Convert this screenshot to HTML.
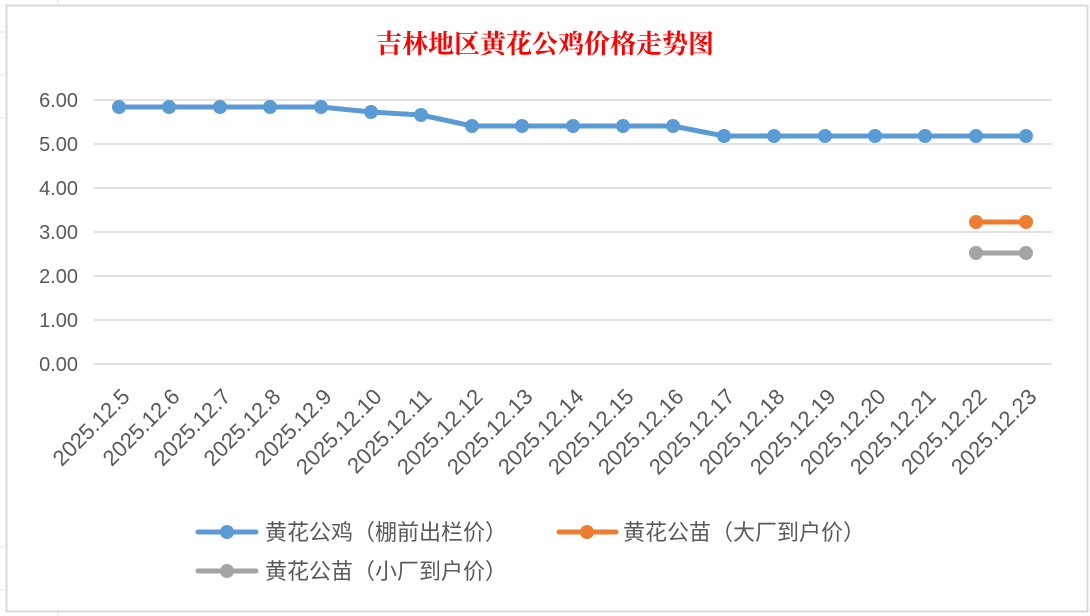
<!DOCTYPE html>
<html><head><meta charset="utf-8"><style>
html,body{margin:0;padding:0;background:#fff;}
svg{display:block;font-family:"Liberation Sans","Noto Sans CJK SC",sans-serif;}
</style></head><body>
<svg width="1090" height="616" viewBox="0 0 1090 616">
<rect x="0" y="0" width="1090" height="616" fill="#fff"/>
<g stroke="#e3e3e3" stroke-width="1">
<line x1="0" y1="32" x2="6" y2="32"/><line x1="0" y1="75" x2="6" y2="75"/>
<line x1="0" y1="118" x2="6" y2="118"/><line x1="0" y1="547" x2="6" y2="547"/>
<line x1="0" y1="590" x2="6" y2="590"/><line x1="58" y1="0" x2="58" y2="5"/><line x1="58" y1="612" x2="58" y2="616"/>
</g>
<rect x="6.5" y="5.5" width="1081" height="606" fill="#fff" stroke="#d9d9d9" stroke-width="2"/>
<text x="545" y="53" text-anchor="middle" font-size="26" font-weight="bold" fill="#ff0000" font-family="Liberation Serif,Noto Serif CJK SC,serif">吉林地区黄花公鸡价格走势图</text>
<g stroke="#d9d9d9" stroke-width="1.5">
<line x1="94" y1="100" x2="1052" y2="100"/><line x1="94" y1="144" x2="1052" y2="144"/>
<line x1="94" y1="188" x2="1052" y2="188"/><line x1="94" y1="232" x2="1052" y2="232"/>
<line x1="94" y1="276" x2="1052" y2="276"/><line x1="94" y1="320" x2="1052" y2="320"/>
<line x1="94" y1="364" x2="1052" y2="364"/>
</g>
<g font-size="20" fill="#595959" text-anchor="end">
<text x="78" y="107">6.00</text><text x="78" y="151">5.00</text><text x="78" y="195">4.00</text>
<text x="78" y="239">3.00</text><text x="78" y="283">2.00</text><text x="78" y="327">1.00</text>
<text x="78" y="371">0.00</text>
</g>
<g font-size="22" fill="#595959" text-anchor="end">
<text transform="translate(131,398) rotate(-45)">2025.12.5</text>
<text transform="translate(181,398) rotate(-45)">2025.12.6</text>
<text transform="translate(232,398) rotate(-45)">2025.12.7</text>
<text transform="translate(282,398) rotate(-45)">2025.12.8</text>
<text transform="translate(333,398) rotate(-45)">2025.12.9</text>
<text transform="translate(383,398) rotate(-45)">2025.12.10</text>
<text transform="translate(433,398) rotate(-45)">2025.12.11</text>
<text transform="translate(484,398) rotate(-45)">2025.12.12</text>
<text transform="translate(534,398) rotate(-45)">2025.12.13</text>
<text transform="translate(585,398) rotate(-45)">2025.12.14</text>
<text transform="translate(635,398) rotate(-45)">2025.12.15</text>
<text transform="translate(685,398) rotate(-45)">2025.12.16</text>
<text transform="translate(736,398) rotate(-45)">2025.12.17</text>
<text transform="translate(786,398) rotate(-45)">2025.12.18</text>
<text transform="translate(837,398) rotate(-45)">2025.12.19</text>
<text transform="translate(887,398) rotate(-45)">2025.12.20</text>
<text transform="translate(937,398) rotate(-45)">2025.12.21</text>
<text transform="translate(988,398) rotate(-45)">2025.12.22</text>
<text transform="translate(1038,398) rotate(-45)">2025.12.23</text>
</g>
<polyline fill="none" stroke="#5b9bd5" stroke-width="5" stroke-linejoin="round" points="119,107 169,107 220,107 270,107 321,107 371,112 421,115 472,126 522,126 573,126 623,126 673,126 724,136 774,136 825,136 875,136 925,136 976,136 1026,136"/>
<g fill="#5b9bd5">
<circle cx="119" cy="107" r="7"/><circle cx="169" cy="107" r="7"/><circle cx="220" cy="107" r="7"/><circle cx="270" cy="107" r="7"/><circle cx="321" cy="107" r="7"/><circle cx="371" cy="112" r="7"/><circle cx="421" cy="115" r="7"/><circle cx="472" cy="126" r="7"/><circle cx="522" cy="126" r="7"/><circle cx="573" cy="126" r="7"/><circle cx="623" cy="126" r="7"/><circle cx="673" cy="126" r="7"/><circle cx="724" cy="136" r="7"/><circle cx="774" cy="136" r="7"/><circle cx="825" cy="136" r="7"/><circle cx="875" cy="136" r="7"/><circle cx="925" cy="136" r="7"/><circle cx="976" cy="136" r="7"/><circle cx="1026" cy="136" r="7"/>
</g>
<line x1="976" y1="222" x2="1026" y2="222" stroke="#ed7d31" stroke-width="5"/>
<circle cx="976" cy="222" r="7" fill="#ed7d31"/><circle cx="1026" cy="222" r="7" fill="#ed7d31"/>
<line x1="976" y1="253" x2="1026" y2="253" stroke="#a5a5a5" stroke-width="5"/>
<circle cx="976" cy="253" r="7" fill="#a5a5a5"/><circle cx="1026" cy="253" r="7" fill="#a5a5a5"/>
<g font-size="22" fill="#595959">
<line x1="198" y1="532" x2="256" y2="532" stroke="#5b9bd5" stroke-width="5" stroke-linecap="round"/>
<circle cx="227" cy="532" r="7" fill="#5b9bd5"/>
<text x="265" y="540">黄花公鸡（棚前出栏价）</text>
<line x1="559" y1="532" x2="616" y2="532" stroke="#ed7d31" stroke-width="5" stroke-linecap="round"/>
<circle cx="587" cy="532" r="7" fill="#ed7d31"/>
<text x="623" y="540">黄花公苗（大厂到户价）</text>
<line x1="198" y1="571" x2="256" y2="571" stroke="#a5a5a5" stroke-width="5" stroke-linecap="round"/>
<circle cx="227" cy="571" r="7" fill="#a5a5a5"/>
<text x="265" y="579">黄花公苗（小厂到户价）</text>
</g>
</svg>
</body></html>
